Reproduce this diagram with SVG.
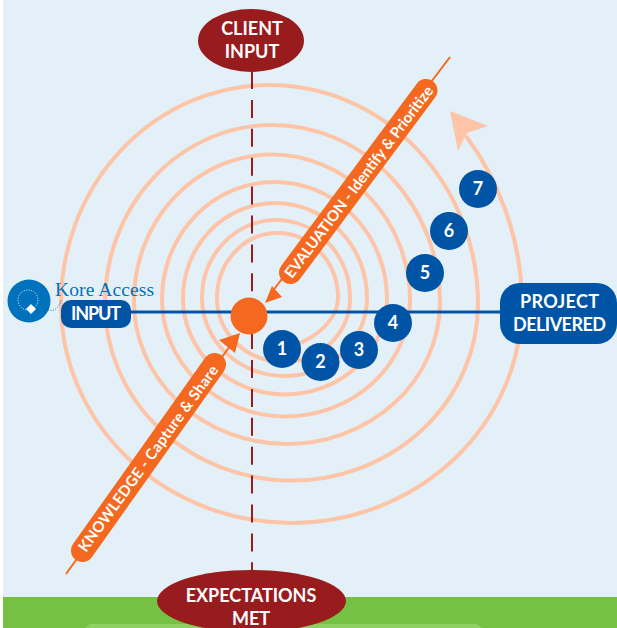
<svg xmlns="http://www.w3.org/2000/svg" width="617" height="628" viewBox="0 0 617 628">
<style>
.t{font-family:Lato,"Open Sans","Liberation Sans",sans-serif;font-weight:700;fill:#fff;text-anchor:middle}
.big{font-size:18px}
.bar{font-size:15px}
.num{font-size:18px}
.n{fill:#0054A6}
</style>
<rect x="0" y="0" width="617" height="628" fill="#fff"/>
<rect x="3" y="0" width="614" height="598" fill="#E4F0F7"/>
<rect x="3" y="597" width="614" height="31" fill="#76C043"/>
<path d="M85 628L90 624H477L482 628Z" fill="#8FD063"/>
<g id="connectors">
<path d="M466 136C495 175 522 235 522 304A230.500 219 0 0 1 61 304A208.500 219 0 0 1 478 304A186.500 177 0 0 1 105 303A167.500 178 0 0 1 440 303A153 142 0 0 1 134 301A138 146 0 0 1 410 300A124 117 0 0 1 162 299A112.500 117 0 0 1 387 299A102 96 0 0 1 183 298A92 95 0 0 1 367 298A82.500 78 0 0 1 202 298A74 78 0 0 1 350 298A66.500 64 0 0 1 217 298A60.500 65 0 0 1 338 298C338 316 322 335 295 345" fill="none" stroke="#FDC4A8" stroke-width="4"/>
<path d="M450 111L488 126L467 133L458 151Z" fill="#FDC4A8"/>
<path d="M252 71V572" fill="none" stroke="#981B1E" stroke-width="2" stroke-dasharray="18 10.900"/>
<path d="M130 312H502" fill="none" stroke="#0054A6" stroke-width="3"/>
<path d="M450 57L272 292" fill="none" stroke="#F4691F" stroke-width="2"/>
<path d="M265 303L272 286L282 297Z" fill="#F4691F"/>
<path d="M66 574L230 346" fill="none" stroke="#F4691F" stroke-width="2"/>
<path d="M240 333L219 340L235 353Z" fill="#F4691F"/>
</g>
<g id="center"><circle cx="249" cy="316" r="18.500" fill="#F4691F"/></g>
<g id="evaluation">
<path d="M290.500 272.500L426 90.500" fill="none" stroke="#F4691F" stroke-width="23" stroke-linecap="round"/>
<text class="t bar" transform="translate(363 185) rotate(-53)" textLength="236">EVALUATION - Identify &amp; Prioritize</text>
</g>
<g id="knowledge">
<path d="M82.500 550.500L214.500 364.500" fill="none" stroke="#F4691F" stroke-width="23" stroke-linecap="round"/>
<text class="t bar" transform="translate(152.500 461.500) rotate(-54)" textLength="226">KNOWLEDGE - Capture &amp; Share</text>
</g>
<g id="client-input">
<ellipse cx="251" cy="40.500" rx="53" ry="31.500" fill="#981B1E"/>
<text class="t big" x="252" y="35">CLIENT</text>
<text class="t big" x="252" y="58">INPUT</text>
</g>
<g id="expectations-met">
<ellipse cx="251.500" cy="601" rx="94.500" ry="31" fill="#981B1E"/>
<text class="t big" x="251" y="602">EXPECTATIONS</text>
<text class="t big" x="251" y="625">MET</text>
</g>
<g id="input">
<rect x="61" y="300" width="70" height="28" rx="10" class="n"/>
<text class="t big" x="96" y="320" textLength="50">INPUT</text>
</g>
<g id="project-delivered">
<rect x="500" y="283" width="117" height="61" rx="20" class="n"/>
<text class="t big" x="559.500" y="308" textLength="79">PROJECT</text>
<text class="t big" x="559.500" y="331" textLength="93">DELIVERED</text>
</g>
<g id="n1"><circle cx="282" cy="349" r="19" class="n"/><text class="t num" x="282" y="355">1</text></g>
<g id="n2"><circle cx="320.500" cy="362" r="19" class="n"/><text class="t num" x="320.500" y="368">2</text></g>
<g id="n3"><circle cx="359" cy="350" r="19" class="n"/><text class="t num" x="359" y="356">3</text></g>
<g id="n4"><circle cx="393" cy="323" r="19" class="n"/><text class="t num" x="393" y="329">4</text></g>
<g id="n5"><circle cx="425" cy="273" r="19" class="n"/><text class="t num" x="425" y="279">5</text></g>
<g id="n6"><circle cx="449" cy="231" r="19" class="n"/><text class="t num" x="449" y="237">6</text></g>
<g id="n7"><circle cx="478" cy="189" r="19" class="n"/><text class="t num" x="478" y="195">7</text></g>
<g id="logo">
<circle cx="29" cy="301" r="21.500" fill="#0071BC"/>
<circle cx="28" cy="300" r="10" fill="none" stroke="#fff" stroke-width="1" stroke-dasharray="1 1.500"/>
<path d="M31 304L36 309L31 314L26 309Z" fill="#fff"/>
<path d="M44 307Q51 314 58 307Q61 303 61 299" fill="none" stroke="#0071BC" stroke-width="1" stroke-dasharray="1 1.500"/>
<text x="55" y="296" font-family="'Liberation Serif',serif" font-size="19.500" fill="#0071BC" textLength="99">Kore Access</text>
</g>
</svg>
